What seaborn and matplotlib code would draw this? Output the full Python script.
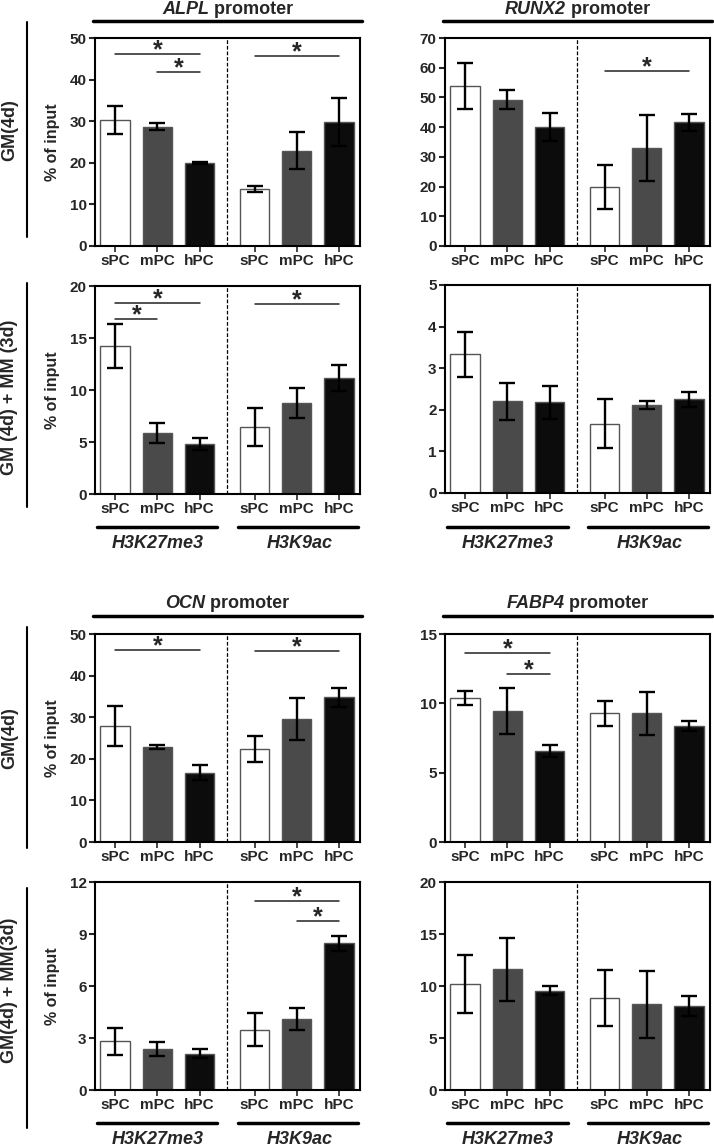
import numpy as np
import pandas as pd
import seaborn as sns
from matplotlib import pyplot as plt
from matplotlib.lines import Line2D
sns.set_style("ticks")
plt.rcParams['font.family'] = ['Liberation Sans', 'DejaVu Sans']
plt.rcParams['font.weight'] = 'bold'

cells = ['sPC', 'mPC', 'hPC']
marks = ['H3K27me3', 'H3K9ac']
pos = [0, 1, 2, 3.3, 4.3, 5.3]
colors = ['white', '#4a4a4a', '#0c0c0c']

# mean and SD, order: H3K27me3 sPC/mPC/hPC, H3K9ac sPC/mPC/hPC
alpl_gm = [30.3, 28.7, 20.0, 13.7, 22.9, 29.8]
alpl_gm_sd = [3.4, 0.8, 0.3, 0.7, 4.5, 5.7]
runx2_gm = [53.9, 49.2, 40.0, 19.8, 32.9, 41.6]
runx2_gm_sd = [7.7, 3.2, 4.7, 7.4, 11.1, 2.9]
alpl_mm = [14.24, 5.86, 4.8, 6.43, 8.74, 11.14]
alpl_mm_sd = [2.1, 0.95, 0.55, 1.83, 1.44, 1.28]
runx2_mm = [3.33, 2.2, 2.18, 1.67, 2.11, 2.25]
runx2_mm_sd = [0.54, 0.45, 0.4, 0.59, 0.09, 0.18]
ocn_gm = [27.9, 22.8, 16.7, 22.3, 29.5, 34.75]
ocn_gm_sd = [4.9, 0.4, 1.8, 3.1, 5.0, 2.3]
fabp4_gm = [10.4, 9.46, 6.58, 9.29, 9.29, 8.4]
fabp4_gm_sd = [0.5, 1.66, 0.45, 0.89, 1.56, 0.36]
ocn_mm = [2.81, 2.37, 2.1, 3.48, 4.1, 8.46]
ocn_mm_sd = [0.77, 0.38, 0.27, 0.96, 0.65, 0.42]
fabp4_mm = [10.16, 11.6, 9.55, 8.88, 8.24, 8.08]
fabp4_mm_sd = [2.8, 3.05, 0.45, 2.7, 3.2, 1.0]

# significance brackets: (bar i, bar j, height)
alpl_gm_sig = [(0, 2, 46.2), (1, 2, 41.8), (3, 5, 45.7)]
runx2_gm_sig = [(3, 5, 59.0)]
alpl_mm_sig = [(0, 2, 18.4), (0, 1, 16.8), (3, 5, 18.3)]
ocn_gm_sig = [(0, 2, 46.2), (3, 5, 45.9)]
fabp4_gm_sig = [(0, 2, 13.66), (1, 2, 12.1)]
ocn_mm_sig = [(3, 5, 10.9), (4, 5, 9.76)]

W, H = 714, 1146
fig = plt.figure(figsize=(W/100, H/100), dpi=100)


def fx(x):
    return x/W


def fy(y):
    return 1 - y/H


def hline(x0, x1, y, lw=2.5):
    fig.add_artist(Line2D([fx(x0), fx(x1)], [fy(y), fy(y)], transform=fig.transFigure, color='black', lw=lw))


def vline(x, y0, y1, lw=1.5):
    fig.add_artist(Line2D([fx(x), fx(x)], [fy(y0), fy(y1)], transform=fig.transFigure, color='black', lw=lw))


def panel(x0, x1, y0, y1, vals, sds, ymax, ystep, sig, ylabel):
    ax = fig.add_axes([fx(x0), fy(y1), (x1-x0)/W, (y1-y0)/H])
    df = pd.DataFrame({'pos': pos, 'val': vals, 'cell': cells*2})
    sns.barplot(data=df, x='pos', y='val', hue='cell', palette=colors, native_scale=True,
                dodge=False, width=0.7, edgecolor='#555555', linewidth=1, legend=False,
                errorbar=None, ax=ax)
    ax.errorbar(pos, vals, yerr=sds, fmt='none', ecolor='black', elinewidth=1.7,
                capsize=6, capthick=1.7, zorder=3)
    for i, j, y in sig:
        ax.plot([pos[i], pos[j]], [y, y], color='#222222', lw=1.1)
        ax.annotate('*', ((pos[i]+pos[j])/2, y), xytext=(0, -2.5), textcoords='offset points',
                    ha='center', va='baseline', fontsize=18, fontweight='bold')
    ax.axvline(2.65, color='black', lw=0.9, ls=(0, (3, 1.5)))
    ax.set_xlim(-0.48, 5.8)
    ax.set_ylim(0, ymax)
    ax.set_yticks(np.arange(0, ymax + ystep/2, ystep))
    ax.set_xticks(pos)
    ax.set_xticklabels(cells*2, fontsize=11, fontweight='bold')
    ax.tick_params(axis='x', length=4, width=1.2, pad=2)
    ax.tick_params(axis='y', length=4, width=1.5, pad=2, labelsize=11)
    for lab in ax.get_yticklabels():
        lab.set_fontweight('bold')
    for s in ax.spines.values():
        s.set_linewidth(1.5)
        s.set_color('black')
    ax.set_xlabel('')
    ax.set_ylabel('')
    if ylabel:
        fig.text(fx(52), fy((y0+y1)/2), '% of input', rotation=90, ha='center', va='center',
                 fontsize=11.5, fontweight='bold')
    return ax


def title(x0, x1, y, gene):
    t1 = fig.text(0, fy(y), gene, style='italic', fontsize=13, fontweight='bold', va='center')
    t2 = fig.text(0, fy(y), ' promoter', fontsize=13, fontweight='bold', va='center')
    r = fig.canvas.get_renderer()
    w1 = t1.get_window_extent(r).width
    w2 = t2.get_window_extent(r).width
    left = (x0 + x1)/2 - (w1 + w2)/2
    t1.set_x(fx(left))
    t2.set_x(fx(left + w1))
    hline(x0 - 2, x1 + 2, y + 12)


def groups(x0, x1, y):
    mid = (x0 + x1)/2
    hline(x0 + 2, mid - 10, y)
    hline(mid + 10, x1 - 2, y)
    fig.text(fx((x0 + mid - 8)/2), fy(y + 16), marks[0], style='italic', fontsize=13,
             fontweight='bold', ha='center', va='center')
    fig.text(fx((mid + 12 + x1)/2), fy(y + 16), marks[1], style='italic', fontsize=13,
             fontweight='bold', ha='center', va='center')


def rowlabel(text, y0, y1, ty):
    vline(27, y0, y1)
    fig.text(fx(10), fy(ty), text, rotation=90, ha='center', va='center', fontsize=13,
             fontweight='bold')


L0, L1 = 95, 360
R0, R1 = 445, 710

panel(L0, L1, 38, 246, alpl_gm, alpl_gm_sd, 50, 10, alpl_gm_sig, True)
panel(R0, R1, 38, 246, runx2_gm, runx2_gm_sd, 70, 10, runx2_gm_sig, False)
panel(L0, L1, 286, 494, alpl_mm, alpl_mm_sd, 20, 5, alpl_mm_sig, True)
panel(R0, R1, 285, 493, runx2_mm, runx2_mm_sd, 5, 1, [], False)
panel(L0, L1, 634, 842, ocn_gm, ocn_gm_sd, 50, 10, ocn_gm_sig, True)
panel(R0, R1, 634, 842, fabp4_gm, fabp4_gm_sd, 15, 5, fabp4_gm_sig, False)
panel(L0, L1, 882, 1090, ocn_mm, ocn_mm_sd, 12, 3, ocn_mm_sig, True)
panel(R0, R1, 882, 1090, fabp4_mm, fabp4_mm_sd, 20, 5, [], False)

title(L0, L1, 9, 'ALPL')
title(R0, R1, 9, 'RUNX2')
title(L0, L1, 604, 'OCN')
title(R0, R1, 604, 'FABP4')

groups(L0, L1, 527)
groups(R0, R1, 527)
groups(L0, L1, 1123)
groups(R0, R1, 1123)

rowlabel('GM(4d)', 22, 237, 130)
rowlabel('GM (4d) + MM (3d)', 283, 507, 397)
rowlabel('GM(4d)', 627, 848, 738)
rowlabel('GM(4d) + MM(3d)', 888, 1128, 990)

fig.savefig('out.png', dpi=100, facecolor='white')
